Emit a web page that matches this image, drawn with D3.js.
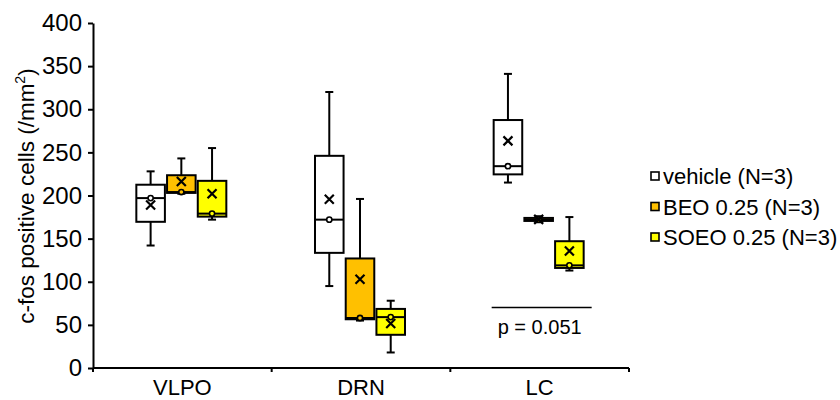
<!DOCTYPE html>
<meta charset="utf-8">
<html>
<style>
	body { margin: 0; background: #fff; }
	svg { font-family: "Liberation Sans", Arial, sans-serif; }
	.axis path, .axis line { stroke: #000; stroke-width: 2px; }
	.box { stroke: #000; stroke-width: 2px; }
	.whisker { stroke: #000; stroke-width: 2px; fill: none; }
</style>
<body>
	<script src="https://d3js.org/d3.v7.min.js"></script>
	<script type="text/javascript">
		// regions on the x axis
		var regions = ["VLPO", "DRN", "LC"];
		// groups (legend)
		var groups = ["vehicle (N=3)", "BEO 0.25 (N=3)", "SOEO 0.25 (N=3)"];
		var groupColors = ["#ffffff", "#ffc000", "#ffff00"];
		// individual animals (3 per box), one array per group
		var vehicleVals = [[142, 197, 228], [95, 172, 320], [215, 234, 341]];
		var beoVals = [[202, 204, 243], [55, 58, 196], [169, 172, 176]];
		var soeoVals = [[172, 179, 255], [18, 59, 78], [113, 119, 175]];
		var yTicks = [0, 50, 100, 150, 200, 250, 300, 350, 400];
		var pText = "p = 0.051";

		var width = 840, height = 400;
		var svg = d3.select("body").append("svg")
			.attr("width", width)
			.attr("height", height);

		var x = d3.scaleBand().domain(regions).range([93, 629]);
		var xInner = d3.scaleBand().domain(groups)
			.range([x.bandwidth() / 2 - 46, x.bandwidth() / 2 + 44])
			.paddingInner(0.07);
		var y = d3.scaleLinear().domain([0, 400]).range([368, 23]);

		// y axis
		var yAxis = svg.append("g")
			.attr("class", "axis")
			.attr("transform", "translate(93,0)")
			.call(d3.axisLeft(y).tickValues(yTicks).tickSize(5).tickSizeOuter(0));
		yAxis.selectAll("text")
			.attr("font-size", 24).attr("fill", "#000").attr("x", -11)
			.attr("font-family", "Liberation Sans, Arial, sans-serif");

		// x axis: ticks at band boundaries, labels at centres
		var xAxisG = svg.append("g").attr("class", "axis");
		xAxisG.append("line")
			.attr("x1", x.range()[0]).attr("x2", x.range()[1])
			.attr("y1", y(0)).attr("y2", y(0));
		xAxisG.selectAll(".xt")
			.data(regions.concat(["end"]))
			.enter().append("line")
			.attr("x1", function (d, i) { return x.range()[0] + i * x.step(); })
			.attr("x2", function (d, i) { return x.range()[0] + i * x.step(); })
			.attr("y1", y(0)).attr("y2", y(0) + 4);
		xAxisG.selectAll(".xl")
			.data(regions)
			.enter().append("text")
			.attr("x", function (d) { return x(d) + x.bandwidth() / 2; })
			.attr("y", 395)
			.attr("text-anchor", "middle")
			.attr("font-size", 22)
			.text(function (d) { return d; });

		// y axis title
		var title = svg.append("text")
			.attr("transform", "translate(34,196) rotate(-90)")
			.attr("text-anchor", "middle")
			.attr("font-size", 22.5);
		title.append("tspan").text("c-fos positive cells (/mm");
		title.append("tspan").attr("font-size", 14).attr("dy", -9).text("2");
		title.append("tspan").attr("dy", 9).text(")");

		// box stats
		var allVals = [vehicleVals, beoVals, soeoVals];
		var boxes = [];
		groups.forEach(function (g, gi) {
			regions.forEach(function (r, ri) {
				var v = allVals[gi][ri].slice().sort(d3.ascending);
				boxes.push({
					region: r, group: g, color: groupColors[gi],
					min: d3.min(v), max: d3.max(v),
					q1: d3.quantile(v, 0.25), med: d3.median(v), q3: d3.quantile(v, 0.75),
					mean: d3.mean(v)
				});
			});
		});

		var bw = xInner.bandwidth();
		var box = svg.selectAll(".bx")
			.data(boxes)
			.enter().append("g")
			.attr("transform", function (d) {
				return "translate(" + (x(d.region) + xInner(d.group) + bw / 2) + ",0)";
			});

		// whiskers
		box.append("line").attr("class", "whisker")
			.attr("y1", function (d) { return y(d.q3); })
			.attr("y2", function (d) { return y(d.max); });
		box.append("line").attr("class", "whisker")
			.attr("y1", function (d) { return y(d.q1); })
			.attr("y2", function (d) { return y(d.min); });
		box.append("line").attr("class", "whisker")
			.attr("x1", -4).attr("x2", 4)
			.attr("y1", function (d) { return y(d.max); })
			.attr("y2", function (d) { return y(d.max); });
		box.append("line").attr("class", "whisker")
			.attr("x1", -4).attr("x2", 4)
			.attr("y1", function (d) { return y(d.min); })
			.attr("y2", function (d) { return y(d.min); });

		box.append("rect").attr("class", "box")
			.attr("x", -bw / 2).attr("width", bw)
			.attr("y", function (d) { return y(d.q3); })
			.attr("height", function (d) { return y(d.q1) - y(d.q3); })
			.attr("fill", function (d) { return d.color; });

		// median line
		box.append("line").attr("class", "whisker")
			.attr("x1", -bw / 2).attr("x2", bw / 2)
			.attr("y1", function (d) { return y(d.med); })
			.attr("y2", function (d) { return y(d.med); });

		// inner point (median animal)
		box.append("circle")
			.attr("r", 2.6)
			.attr("cy", function (d) { return y(d.med); })
			.attr("fill", function (d) { return d.color; })
			.attr("stroke", "#000").attr("stroke-width", 1.6);

		// mean marker
		box.append("path")
			.attr("d", function (d) {
				var c = y(d.mean);
				return "M-4.5," + (c - 4.5) + "L4.5," + (c + 4.5) + "M-4.5," + (c + 4.5) + "L4.5," + (c - 4.5);
			})
			.attr("stroke", "#000").attr("stroke-width", 2.2).attr("fill", "none");

		// p-value annotation under LC
		var lcC = x("LC") + x.bandwidth() / 2;
		svg.append("line")
			.attr("x1", lcC - 48).attr("x2", lcC + 52)
			.attr("y1", 307.5).attr("y2", 307.5)
			.attr("stroke", "#000").attr("stroke-width", 1.5);
		svg.append("text")
			.attr("x", lcC).attr("y", 334)
			.attr("text-anchor", "middle")
			.attr("font-size", 20)
			.text(pText);

		// legend
		var legend = svg.selectAll(".lg")
			.data(groups)
			.enter().append("g")
			.attr("transform", function (d, i) { return "translate(651," + (176 + i * 30.5) + ")"; });
		legend.append("rect")
			.attr("x", 0).attr("y", -4).attr("width", 8).attr("height", 8)
			.attr("fill", function (d, i) { return groupColors[i]; })
			.attr("stroke", "#000").attr("stroke-width", 1.6);
		legend.append("text")
			.attr("x", 12).attr("y", 8)
			.attr("font-size", 22)
			.text(function (d) { return d; });
	</script>
</body>
</html>
